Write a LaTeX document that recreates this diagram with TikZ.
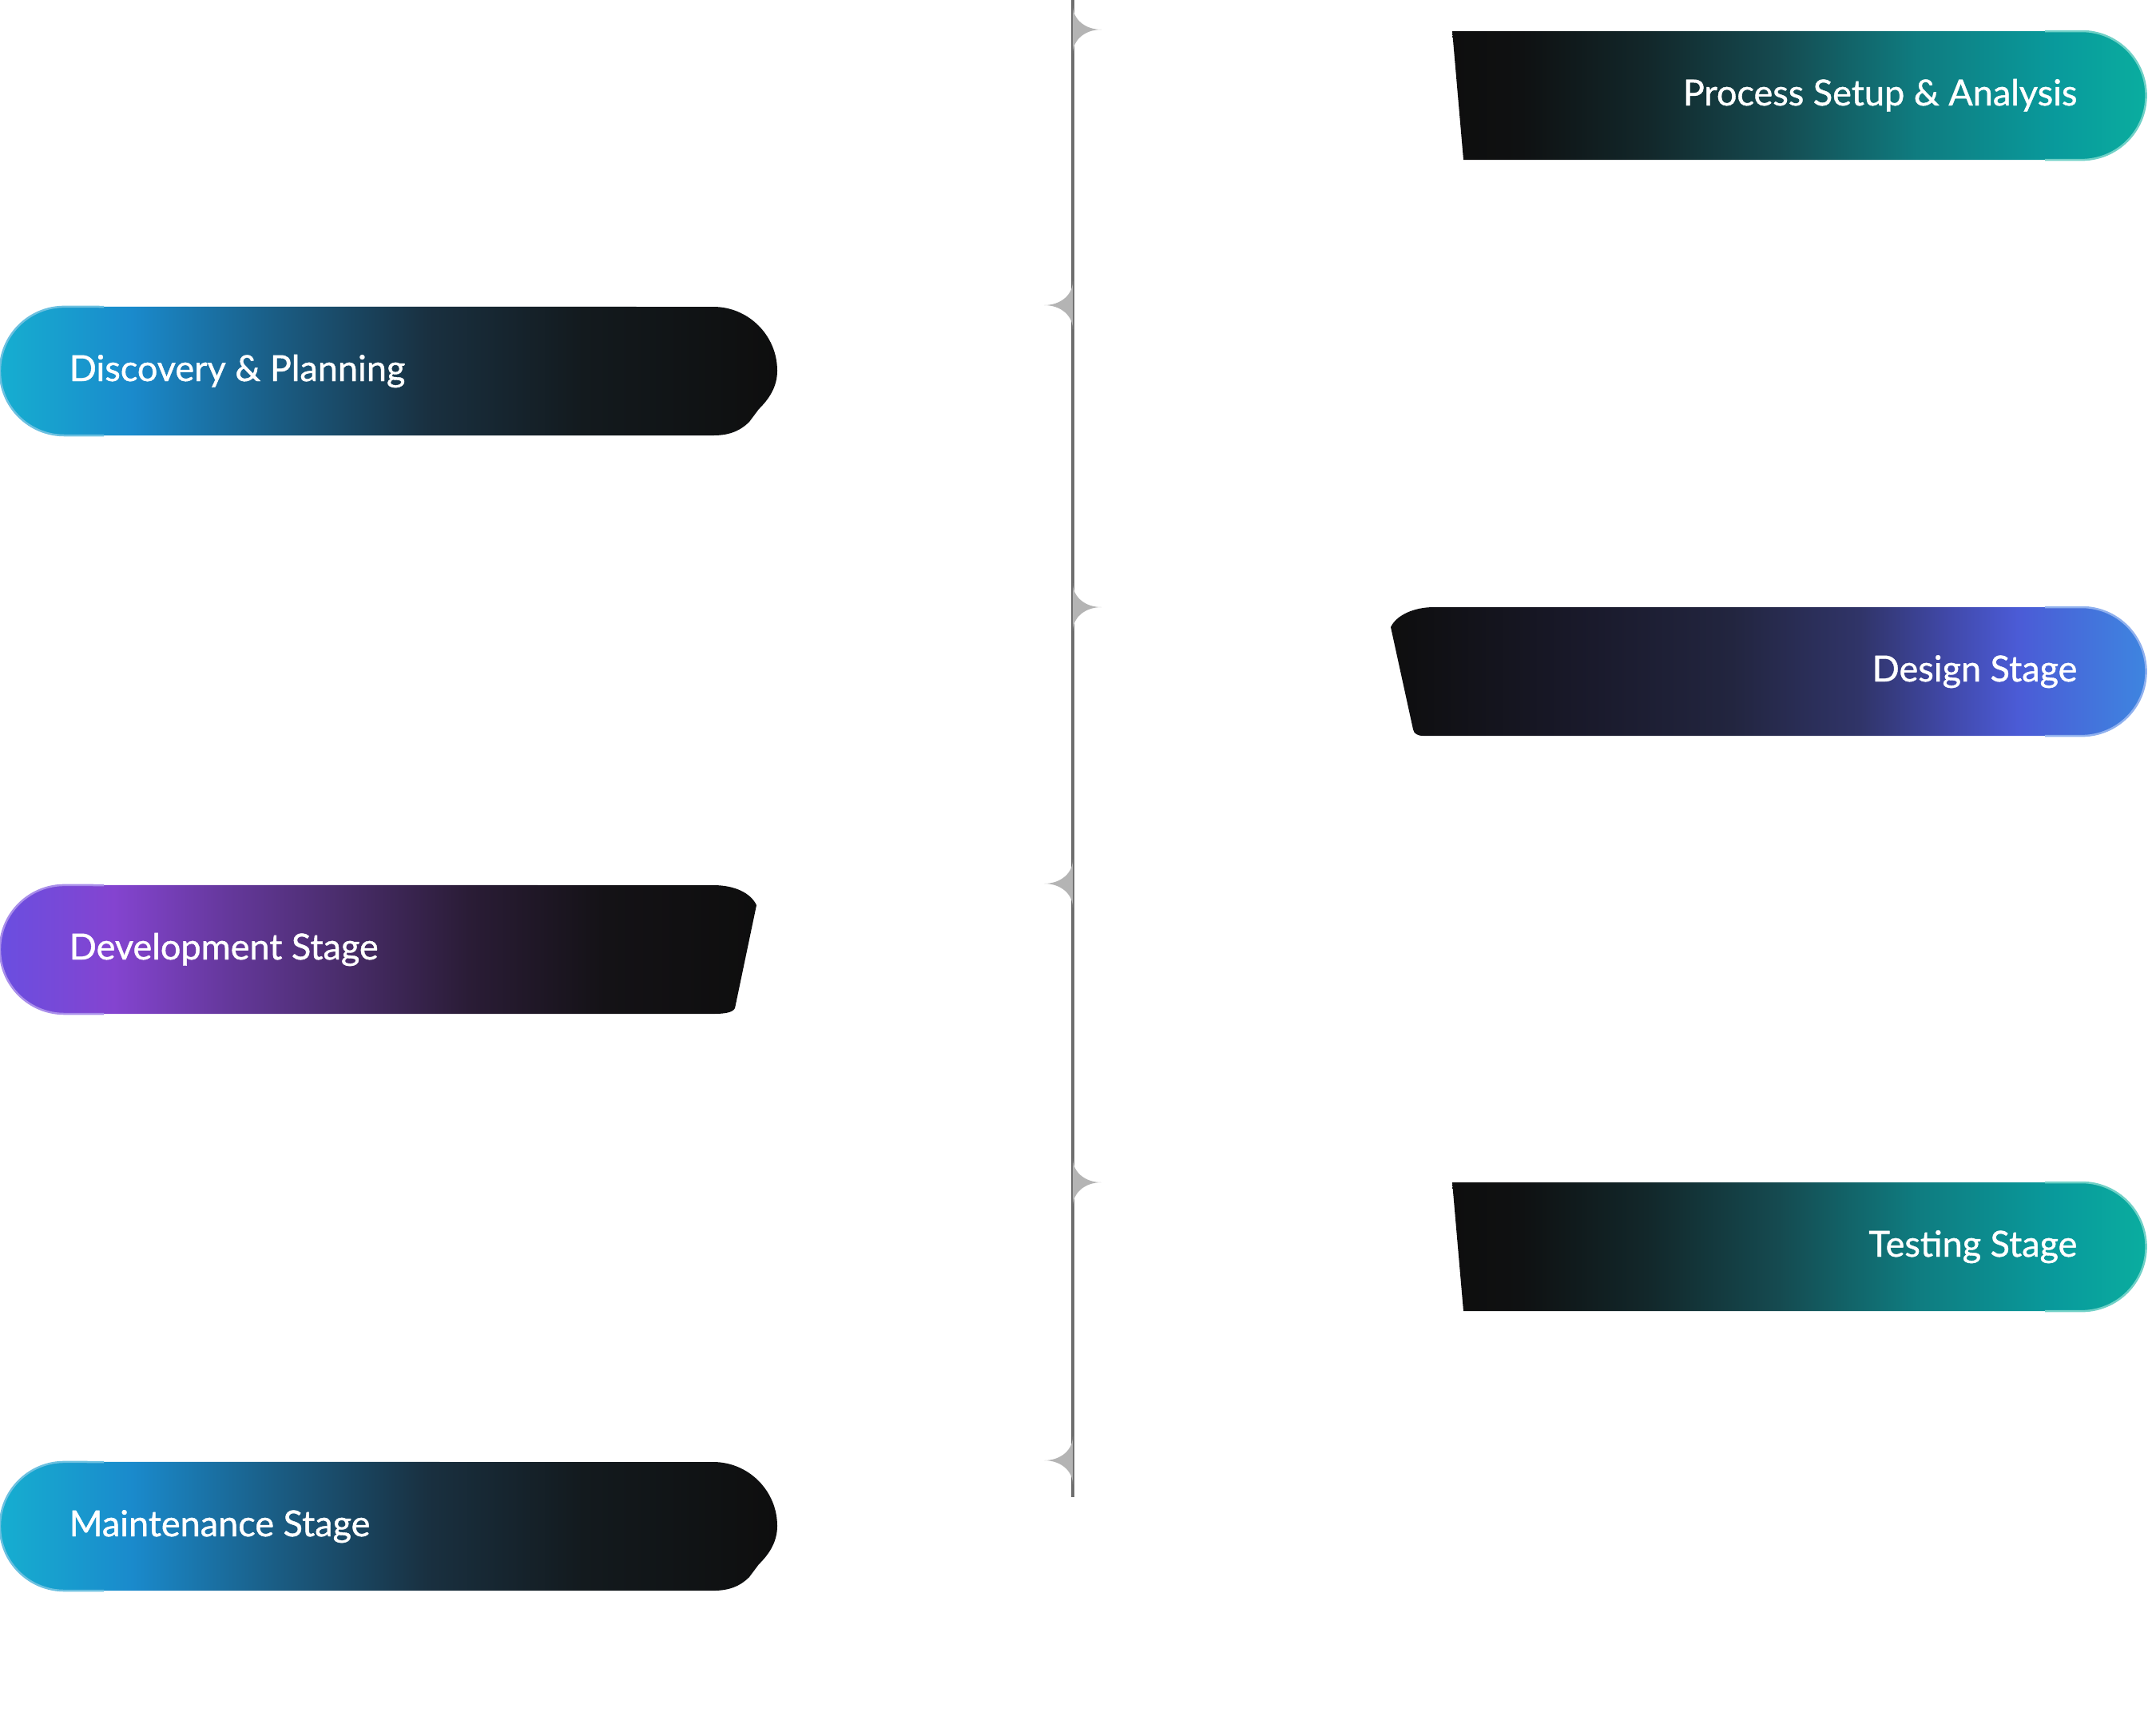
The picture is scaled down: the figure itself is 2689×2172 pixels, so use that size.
\documentclass[tikz,border=0pt]{standalone}
\usepackage{fontspec}
\newfontfamily\stagefont{Lato}[FakeBold=0.9]
\definecolor{bandblack}{HTML}{0E0E0E}
\definecolor{lineGray}{HTML}{6E6E6E}
\definecolor{notchGray}{HTML}{B4B4B4}
% teal band
\definecolor{tealA}{HTML}{0F1112}
\definecolor{tealB}{HTML}{12272A}
\definecolor{tealC}{HTML}{154A50}
\definecolor{tealD}{HTML}{0F7C80}
\definecolor{tealE}{HTML}{099A9C}
\definecolor{tealF}{HTML}{0AAD9F}
\definecolor{tealEdge}{HTML}{6FD0C6}
% indigo band
\definecolor{indA}{HTML}{19192A}
\definecolor{indB}{HTML}{22253F}
\definecolor{indC}{HTML}{303468}
\definecolor{indD}{HTML}{4149AA}
\definecolor{indE}{HTML}{4B5BD6}
\definecolor{indF}{HTML}{3E85E0}
\definecolor{indEdge}{HTML}{8FB0EE}
% cyan band
\definecolor{cyanA}{HTML}{16AED0}
\definecolor{cyanB}{HTML}{1A8ACC}
\definecolor{cyanC}{HTML}{1A5E86}
\definecolor{cyanD}{HTML}{193040}
\definecolor{cyanE}{HTML}{131A1E}
\definecolor{cyanEdge}{HTML}{6CC0E0}
% violet band
\definecolor{vioA}{HTML}{6A4EE0}
\definecolor{vioB}{HTML}{8444D0}
\definecolor{vioC}{HTML}{65389C}
\definecolor{vioD}{HTML}{4A2D6C}
\definecolor{vioE}{HTML}{2A1C36}
\definecolor{vioF}{HTML}{141216}
\definecolor{vioEdge}{HTML}{A98EEA}

\pgfdeclarehorizontalshading{tealband}{100bp}{color(0bp)=(bandblack); color(25bp)=(bandblack);
  color(30bp)=(tealA); color(39bp)=(tealB); color(48.5bp)=(tealC); color(58.5bp)=(tealD);
  color(68.5bp)=(tealE); color(75bp)=(tealF); color(100bp)=(tealF)}
\pgfdeclarehorizontalshading{indigoband}{100bp}{color(0bp)=(bandblack); color(25bp)=(bandblack);
  color(37.5bp)=(indA); color(47.5bp)=(indB); color(56bp)=(indC); color(62bp)=(indD);
  color(66.5bp)=(indE); color(75bp)=(indF); color(100bp)=(indF)}
\pgfdeclarehorizontalshading{cyanband}{100bp}{color(0bp)=(cyanA); color(25bp)=(cyanA);
  color(33.5bp)=(cyanB); color(42.5bp)=(cyanC); color(52.5bp)=(cyanD); color(62.5bp)=(cyanE);
  color(75bp)=(bandblack); color(100bp)=(bandblack)}
\pgfdeclarehorizontalshading{violetband}{100bp}{color(0bp)=(vioA); color(25bp)=(vioA);
  color(32.5bp)=(vioB); color(40bp)=(vioC); color(47.5bp)=(vioD); color(56bp)=(vioE);
  color(65bp)=(vioF); color(75bp)=(bandblack); color(100bp)=(bandblack)}

\begin{document}
\begin{tikzpicture}[
    x=0.01cm, y=-0.01cm,
    stagetext/.style={text=white, font=\stagefont\fontsize{12.8pt}{15pt}\selectfont, inner sep=0pt},
    capedge/.style={line width=0.025cm}
]

\pgfmathsetmacro{\lineX}{1343}
\pgfmathsetmacro{\notchLen}{36}

\useasboundingbox (0,0) rectangle (2689,2172);

% Timeline
\coordinate (lineTop) at (\lineX,0);
\coordinate (lineEnd) at (\lineX,1874);
\draw[line width=0.04cm, lineGray] (lineTop) -- (lineEnd);

% Notches (1 = right, -1 = left)
\foreach \ny/\dir in {37/1, 382/-1, 760/1, 1106/-1, 1480/1, 1828/-1}{
    \fill[notchGray] (\lineX,\ny-30) .. controls (\lineX,\ny-14) and (\lineX+\dir*14,\ny) .. (\lineX+\dir*\notchLen,\ny)
        .. controls (\lineX+\dir*14,\ny) and (\lineX,\ny+14) .. (\lineX,\ny+30) -- cycle;
}

% Process Setup & Analysis
\shade[shading=tealband] (1818,39) -- (2606,39) arc[start angle=90, end angle=-90, radius=0.805cm] -- (1832,200) -- cycle;
\draw[capedge, tealEdge] (2560,39) -- (2606,39) arc[start angle=90, end angle=-90, radius=0.805cm] -- (2560,200);
\node[stagetext, anchor=base east] (setup) at (2601,132) {Process Setup \& Analysis};

% Discovery & Planning
\shade[shading=cyanband] (893,384) .. controls (937,384) and (973,420) .. (973,464)
    .. controls (973,485) and (962,500) .. (950,512) -- (938,528) .. controls (925,541) and (910,545) .. (893,545)
    -- (80.5,545) arc[start angle=270, end angle=90, radius=0.805cm] -- cycle;
\draw[capedge, cyanEdge] (130,545) -- (80.5,545) arc[start angle=270, end angle=90, radius=0.805cm] -- (130,384);
\node[stagetext, anchor=base west] (discovery) at (86,477) {Discovery \& Planning};

% Design Stage
\shade[shading=indigoband] (1795,760) -- (2606,760) arc[start angle=90, end angle=-90, radius=0.805cm]
    -- (1782,921) .. controls (1774,921) and (1770,918) .. (1769,913) -- (1741,785)
    .. controls (1748,770) and (1770,760) .. (1795,760) -- cycle;
\draw[capedge, indEdge] (2560,760) -- (2606,760) arc[start angle=90, end angle=-90, radius=0.805cm] -- (2560,921);
\node[stagetext, anchor=base east] (design) at (2601,853) {Design Stage};

% Development Stage
\shade[shading=violetband] (893,1108) .. controls (920,1108) and (940,1118) .. (947,1133) -- (920,1262)
    .. controls (917,1268) and (905,1269) .. (893,1269)
    -- (80.5,1269) arc[start angle=270, end angle=90, radius=0.805cm] -- cycle;
\draw[capedge, vioEdge] (130,1269) -- (80.5,1269) arc[start angle=270, end angle=90, radius=0.805cm] -- (130,1108);
\node[stagetext, anchor=base west] (develop) at (86,1201) {Development Stage};

% Testing Stage
\shade[shading=tealband] (1818,1480) -- (2606,1480) arc[start angle=90, end angle=-90, radius=0.805cm] -- (1832,1641) -- cycle;
\draw[capedge, tealEdge] (2560,1480) -- (2606,1480) arc[start angle=90, end angle=-90, radius=0.805cm] -- (2560,1641);
\node[stagetext, anchor=base east] (testing) at (2601,1573) {Testing Stage};

% Maintenance Stage
\shade[shading=cyanband] (893,1830) .. controls (937,1830) and (973,1866) .. (973,1910)
    .. controls (973,1931) and (962,1946) .. (950,1958) -- (938,1974) .. controls (925,1987) and (910,1991) .. (893,1991)
    -- (80.5,1991) arc[start angle=270, end angle=90, radius=0.805cm] -- cycle;
\draw[capedge, cyanEdge] (130,1991) -- (80.5,1991) arc[start angle=270, end angle=90, radius=0.805cm] -- (130,1830);
\node[stagetext, anchor=base west] (maint) at (86,1923) {Maintenance Stage};

\end{tikzpicture}
\end{document}
